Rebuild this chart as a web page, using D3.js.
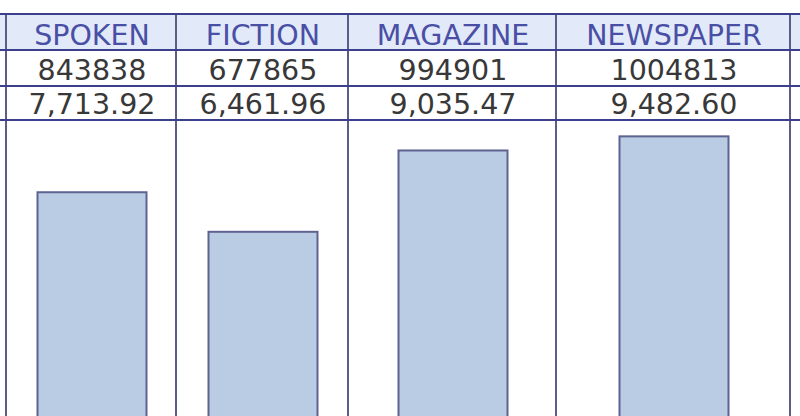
<!DOCTYPE html>
<html>
<head>
<meta charset="utf-8">
<script src="https://cdn.jsdelivr.net/npm/d3@7"></script>
<style>
  html, body { margin: 0; padding: 0; background: #fff; }
  svg { display: block; }
</style>
</head>
<body>
<svg id="chart" width="800" height="416"></svg>
<script>
// ---- data ----
const categories = ["SPOKEN", "FICTION", "MAGAZINE", "NEWSPAPER"];
const frequencies = [843838, 677865, 994901, 1004813];
const perMillion = [7713.92, 6461.96, 9035.47, 9482.60];

// ---- layout ----
const W = 800, H = 416;
const colEdges = [6, 176, 348, 556, 790];
const rowLines = [14, 50, 86, 120];
const barWidth = 109;
const font = "'DejaVu Sans', Verdana, sans-serif";
const borderColor = "#3b3f8c";

const svg = d3.select("#chart");

const y = d3.scaleLinear().domain([0, 10000]).range([436, rowLines[3]]);

// header background
svg.append("rect")
  .attr("x", 0).attr("y", rowLines[0])
  .attr("width", W).attr("height", rowLines[1] - rowLines[0])
  .attr("fill", "#e2e9f8");

const cols = categories.map((c, i) => ({
  name: c, freq: frequencies[i], pm: perMillion[i],
  x0: colEdges[i], x1: colEdges[i + 1], cx: (colEdges[i] + colEdges[i + 1]) / 2
}));

// bars
svg.selectAll("rect.bar").data(cols).join("rect")
  .attr("class", "bar")
  .attr("x", d => d.cx - barWidth / 2 + 1)
  .attr("y", d => y(d.pm))
  .attr("width", barWidth)
  .attr("height", d => y(0) - y(d.pm))
  .attr("fill", "#b9cce4")
  .attr("stroke", "#5d6291")
  .attr("stroke-width", 2);

// vertical lines
svg.selectAll("line.v").data(colEdges).join("line")
  .attr("class", "v")
  .attr("x1", d => d).attr("x2", d => d)
  .attr("y1", rowLines[0]).attr("y2", H)
  .attr("stroke", "#5a5d85").attr("stroke-width", 2);

// horizontal lines
svg.selectAll("line.h").data(rowLines).join("line")
  .attr("class", "h")
  .attr("x1", 0).attr("x2", W)
  .attr("y1", d => d).attr("y2", d => d)
  .attr("stroke", borderColor).attr("stroke-width", 2);

// header text
svg.selectAll("text.hdr").data(cols).join("text")
  .attr("class", "hdr")
  .attr("x", d => d.cx + 1)
  .attr("y", 45)
  .attr("text-anchor", "middle")
  .attr("font-family", font)
  .attr("font-size", 28.5)
  .attr("fill", "#4a4fa6")
  .text(d => d.name);

// frequency row
svg.selectAll("text.freq").data(cols).join("text")
  .attr("class", "freq")
  .attr("x", d => d.cx + 1)
  .attr("y", 80)
  .attr("text-anchor", "middle")
  .attr("font-family", font)
  .attr("font-size", 28.5)
  .attr("fill", "#383838")
  .text(d => d.freq);

// per million row
const fmt = d3.format(",.2f");
svg.selectAll("text.pm").data(cols).join("text")
  .attr("class", "pm")
  .attr("x", d => d.cx + 1)
  .attr("y", 114)
  .attr("text-anchor", "middle")
  .attr("font-family", font)
  .attr("font-size", 28.5)
  .attr("fill", "#383838")
  .text(d => fmt(d.pm));
</script>
</body>
</html>
